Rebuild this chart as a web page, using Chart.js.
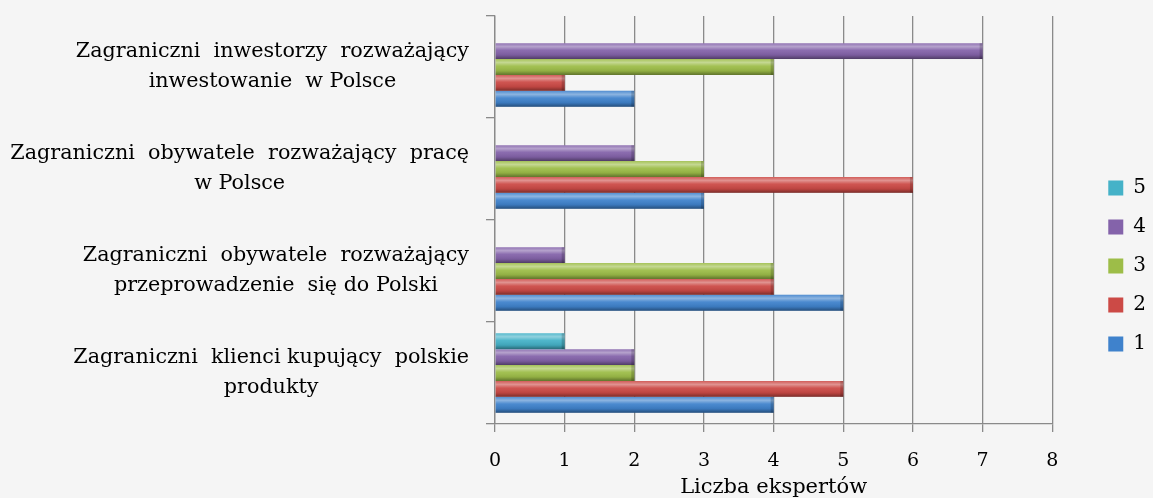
<!DOCTYPE html>
<html>
<head>
<meta charset="utf-8">
<script src="https://cdn.jsdelivr.net/npm/chart.js@4.4.1/dist/chart.umd.min.js"></script>
<style>
html, body { margin: 0; padding: 0; background: #f5f5f5; }
</style>
</head>
<body>
<canvas id="myChart" width="1153" height="498"></canvas>
<script>
// categories, top to bottom
var categories = [
    ["Zagraniczni  inwestorzy  rozważający", "inwestowanie  w Polsce"],
    ["Zagraniczni  obywatele  rozważający  pracę", "w Polsce"],
    ["Zagraniczni  obywatele  rozważający", "przeprowadzenie  się do Polski"],
    ["Zagraniczni  klienci kupujący  polskie", "produkty"]
];

// series (legend order: 5 at the top)
var seriesNames = ["5", "4", "3", "2", "1"];
var values5 = [0, 0, 0, 1];
var values4 = [7, 2, 1, 2];
var values3 = [4, 3, 4, 2];
var values2 = [1, 6, 4, 5];
var values1 = [2, 3, 5, 4];
var seriesColors = ["#45b2c8", "#8463aa", "#9dbd48", "#cc4a46", "#3f82cc"];

var xTickLabels = ["0", "1", "2", "3", "4", "5", "6", "7", "8"];
var xTitle = "Liczba ekspertów";

var gridColor = "#8a8a8a";
var serif = "'DejaVu Serif', serif";

Chart.defaults.font.family = serif;
Chart.defaults.color = "#000";

var seriesValues = [values5, values4, values3, values2, values1];
var datasets = seriesNames.map(function(name, i) {
    return {
        label: name,
        data: seriesValues[i],
        backgroundColor: seriesColors[i],
        borderWidth: 0,
        categoryPercentage: 0.78,
        barPercentage: 1.0
    };
});

// page background
var bgPlugin = {
    id: 'bg',
    beforeDraw: function(chart) {
        var ctx = chart.ctx;
        ctx.save();
        ctx.fillStyle = "#f5f5f5";
        ctx.fillRect(0, 0, chart.width, chart.height);
        ctx.restore();
    }
};

// glossy cylinder look on the bars
var barShine = {
    id: 'barShine',
    afterDatasetsDraw: function(chart) {
        var ctx = chart.ctx;
        chart.data.datasets.forEach(function(ds, di) {
            var meta = chart.getDatasetMeta(di);
            meta.data.forEach(function(bar) {
                var p = bar.getProps(['x', 'y', 'base', 'height'], true);
                var w = p.x - p.base;
                if (w <= 0) return;
                var top = p.y - p.height / 2;
                var g = ctx.createLinearGradient(0, top, 0, top + p.height);
                g.addColorStop(0, 'rgba(255,255,255,0.10)');
                g.addColorStop(0.22, 'rgba(255,255,255,0.40)');
                g.addColorStop(0.45, 'rgba(255,255,255,0.06)');
                g.addColorStop(0.75, 'rgba(0,0,0,0.08)');
                g.addColorStop(1, 'rgba(0,0,0,0.40)');
                ctx.save();
                ctx.fillStyle = g;
                ctx.fillRect(p.base, top, w, p.height);
                ctx.fillStyle = 'rgba(0,0,0,0.18)';
                ctx.fillRect(p.x - 3, top, 3, p.height);
                ctx.restore();
            });
        });
    }
};

// category labels: block right aligned, lines centred inside the block
var catLabels = {
    id: 'catLabels',
    afterDraw: function(chart) {
        var ctx = chart.ctx;
        var yScale = chart.scales.y;
        var right = yScale.right - 26;
        ctx.save();
        ctx.font = "20.7px " + serif;
        ctx.fillStyle = "#000";
        ctx.textAlign = "center";
        ctx.textBaseline = "middle";
        categories.forEach(function(lines, i) {
            var cy = yScale.getPixelForValue(i);
            var maxW = 0;
            lines.forEach(function(l) { maxW = Math.max(maxW, ctx.measureText(l).width); });
            var cx = right - maxW / 2;
            lines.forEach(function(l, j) {
                ctx.fillText(l, cx, cy + (j - (lines.length - 1) / 2) * 30);
            });
        });
        ctx.restore();
    }
};

// move the legend next to the plot, like the original
var legendPlace = {
    id: 'legendPlace',
    afterLayout: function(chart) {
        var l = chart.legend;
        var w = l.width, h = l.height;
        l.left = chart.chartArea.right + 37;
        l.right = l.left + w;
        l.top = chart.chartArea.top + 143;
        l.bottom = l.top + h;
    }
};

var ctx = document.getElementById("myChart").getContext("2d");
var myChart = new Chart(ctx, {
    type: 'bar',
    data: {
        labels: categories,
        datasets: datasets
    },
    plugins: [bgPlugin, barShine, catLabels, legendPlace],
    options: {
        indexAxis: 'y',
        responsive: false,
        animation: false,
        devicePixelRatio: 1,
        layout: {
            padding: { top: 16, right: 34, bottom: 0, left: 0 }
        },
        plugins: {
            legend: {
                position: 'right',
                align: 'start',
                labels: {
                    boxWidth: 15,
                    boxHeight: 15,
                    padding: 19,
                    color: "#000",
                    font: { size: 20, family: serif }
                }
            },
            tooltip: { enabled: false }
        },
        scales: {
            x: {
                min: 0,
                max: 8,
                afterFit: function(s) { s.height = 74; },
                ticks: {
                    stepSize: 1,
                    padding: 18,
                    color: "#000",
                    font: { size: 19, family: serif },
                    callback: function(v) { return xTickLabels[v]; }
                },
                grid: {
                    color: gridColor,
                    lineWidth: 1.3,
                    tickLength: 8
                },
                border: { color: gridColor, width: 1.3 },
                title: {
                    display: true,
                    text: xTitle,
                    color: "#000",
                    font: { size: 21, family: serif },
                    padding: { top: 0, bottom: -2 }
                }
            },
            y: {
                afterFit: function(s) { s.width = 495; },
                ticks: { display: false },
                grid: {
                    color: gridColor,
                    lineWidth: 1.3,
                    tickLength: 9,
                    drawOnChartArea: false
                },
                border: { color: gridColor, width: 1.3 }
            }
        }
    }
});
</script>
</body>
</html>
